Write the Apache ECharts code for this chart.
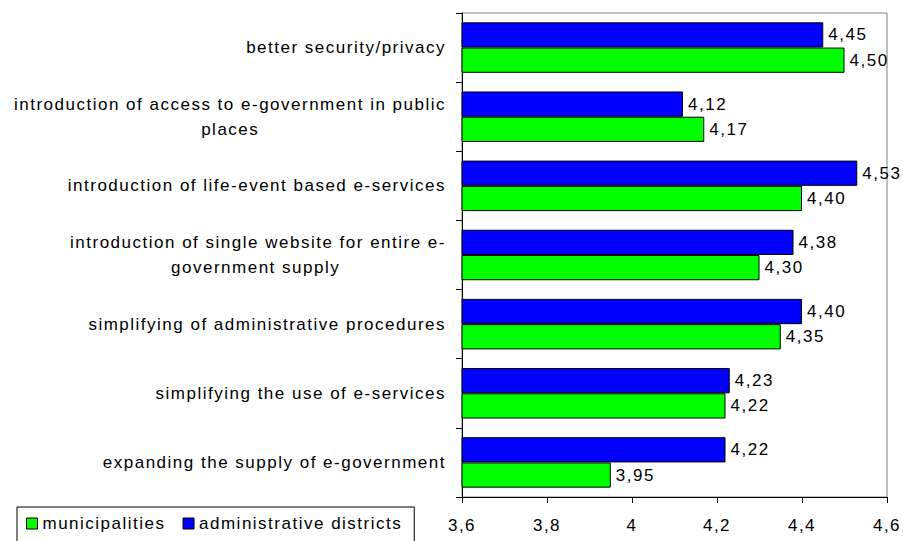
<!DOCTYPE html>
<html>
<head>
<meta charset="utf-8">
<script src="https://cdn.jsdelivr.net/npm/echarts@6/dist/echarts.min.js"></script>
<style>
html,body{margin:0;padding:0;background:#fff}
#c{width:903px;height:541px}
#c svg text{letter-spacing:1.5px}
</style>
</head>
<body>
<div id="c"></div>
<script>
const categories = [
  "better security/privacy",
  "introduction of access to e-government in public\nplaces",
  "introduction of life-event based e-services",
  "introduction of single website for entire e-\ngovernment supply",
  "simplifying of administrative procedures",
  "simplifying the use of e-services",
  "expanding the supply of e-government"
];
const adminDistricts = [4.45, 4.12, 4.53, 4.38, 4.40, 4.23, 4.22];
const municipalities = [4.50, 4.17, 4.40, 4.30, 4.35, 4.22, 3.95];
const xTicks = [3.6, 3.8, 4.0, 4.2, 4.4, 4.6];

const FONT = 'Arial, "Liberation Sans", sans-serif';
const FS = 17;
const LS = 1.5;
const fmtVal = v => v.toFixed(2).replace('.', ',');
const fmtTick = v => String(Math.round(v * 10) / 10).replace('.', ',');

// centre the second line of two-line labels under the first (right-aligned block)
const mctx = document.createElement('canvas').getContext('2d');
mctx.font = FS + 'px ' + FONT;
const tw = s => mctx.measureText(s).width + LS * s.length;
const fmtCat = v => {
  const lines = v.split('\n');
  if (lines.length < 2) return v;
  const w1 = tw(lines[0]);
  const sp = tw('\u00A0');
  return lines.map((l, i) => {
    if (i === 0) return l;
    const n = Math.max(0, Math.round((w1 - tw(l)) / 2 / sp));
    return l + '\u00A0'.repeat(n);
  }).join('\n');
};

const chart = echarts.init(document.getElementById('c'), null, { renderer: 'svg' });
chart.setOption({
  animation: false,
  backgroundColor: '#fff',
  textStyle: { fontFamily: FONT },
  grid: { left: 462, right: 16, top: 13, bottom: 44, show: true, borderColor: '#808080', borderWidth: 1 },
  legend: {
    left: 17, top: 507,
    data: ['municipalities', 'administrative districts'],
    icon: 'rect', itemWidth: 11, itemHeight: 11, itemGap: 38,
    itemStyle: { borderColor: '#000', borderWidth: 1 },
    borderColor: '#000', borderWidth: 1,
    padding: [8, 48, 30, 9],
    textStyle: { fontSize: FS, color: '#000', fontFamily: FONT }
  },
  xAxis: {
    type: 'value', min: xTicks[0], max: xTicks[xTicks.length - 1], interval: 0.2,
    axisLine: { show: true, lineStyle: { color: '#000' } },
    axisTick: { show: true, length: 6, lineStyle: { color: '#000' } },
    splitLine: { show: false },
    axisLabel: { fontSize: FS, color: '#000', margin: 20, fontFamily: FONT, formatter: fmtTick }
  },
  yAxis: {
    type: 'category', inverse: true, data: categories,
    axisLine: { show: true, lineStyle: { color: '#000' } },
    axisTick: { show: true, length: 6, lineStyle: { color: '#000' } },
    axisLabel: {
      fontSize: FS, color: '#000', margin: 16, fontFamily: FONT, lineHeight: 25,
      formatter: fmtCat
    }
  },
  series: [
    {
      name: 'administrative districts', type: 'bar', data: adminDistricts,
      barGap: '0%', barCategoryGap: '27%',
      itemStyle: { color: '#0000FF', borderColor: '#000', borderWidth: 1 },
      label: { show: true, position: 'right', distance: 5, fontSize: FS, color: '#000', fontFamily: FONT,
               formatter: p => fmtVal(p.value) }
    },
    {
      name: 'municipalities', type: 'bar', data: municipalities,
      barGap: '0%', barCategoryGap: '27%',
      itemStyle: { color: '#00FF00', borderColor: '#000', borderWidth: 1 },
      label: { show: true, position: 'right', distance: 5, fontSize: FS, color: '#000', fontFamily: FONT,
               formatter: p => fmtVal(p.value) }
    }
  ]
});
</script>
</body>
</html>
